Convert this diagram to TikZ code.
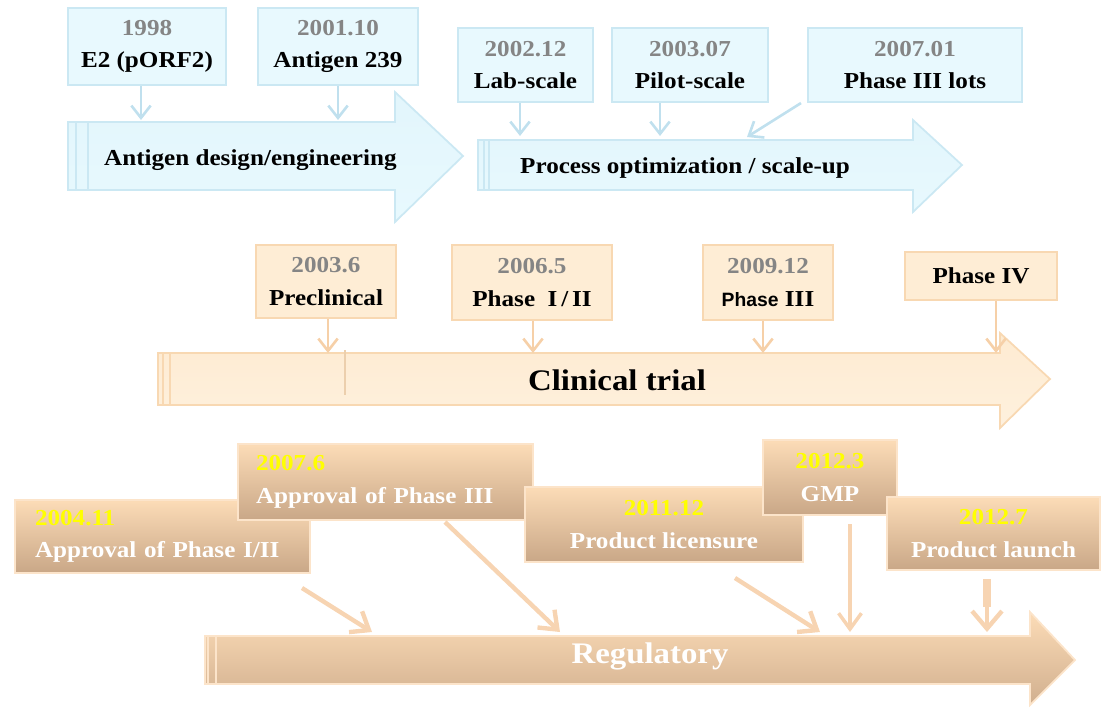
\documentclass[tikz,border=0pt]{standalone}
\usepackage{fontspec}
\setmainfont{Liberation Serif}[FakeStretch=1.1]
\setsansfont{Liberation Sans}
\usetikzlibrary{arrows.meta,calc}

\definecolor{dategray}{HTML}{858585}
\definecolor{skyfill}{HTML}{E8F9FE}
\definecolor{skyline}{HTML}{CBE8F3}
\definecolor{skyarrow}{HTML}{C0E0EE}
\definecolor{creamfill}{HTML}{FEEDD5}
\definecolor{creamline}{HTML}{F8D8B2}
\definecolor{creamarrow}{HTML}{F6D0A8}
\definecolor{tantop}{HTML}{FCDCB7}
\definecolor{tanbot}{HTML}{C9A787}
\definecolor{tanline}{HTML}{FCE4CA}
\definecolor{tanarrow}{HTML}{F7D4B2}
\definecolor{dateyellow}{HTML}{FFFF00}

\tikzset{
box/.style={rectangle,line width=1.2pt,align=center,inner sep=2pt,
font=\fontsize{13}{18.5}\selectfont\bfseries},
skybox/.style={box,draw=skyline,fill=skyfill},
creambox/.style={box,draw=creamline,fill=creamfill},
tanbox/.style={box,draw=tanline,top color=tantop,bottom color=tanbot,text=white},
skyband/.style={draw=skyline,line width=1pt,top color=skyfill!80!skyline,bottom color=skyfill},
creamband/.style={draw=creamline,line width=1pt,top color=creamfill!90!creamline,bottom color=creamfill!80!white},
tanband/.style={draw=tanline,line width=1pt,top color=tantop,bottom color=tanbot!85!tantop},
skylink/.style={draw=skyarrow,line width=1.5pt,-{Straight Barb[length=7pt,width=11pt]}},
creamlink/.style={draw=creamarrow,line width=1.5pt,-{Straight Barb[length=7pt,width=11pt]}},
tanlink/.style={draw=tanarrow,line width=2.5pt,-{Straight Barb[length=9pt,width=14pt]}},
bandtext/.style={font=\fontsize{13}{15}\selectfont\bfseries},
bigtext/.style={font=\fontsize{17}{20}\selectfont\bfseries}
}

\begin{document}
\begin{tikzpicture}[x=0.02cm,y=-0.02cm]
\useasboundingbox (0,0) rectangle (1102,707);

% antigen design
\draw[skyband] (68,122) -- (395,122) -- (395,92) -- (463,156) -- (395,222) -- (395,190) -- (68,190) -- cycle;
\draw[skyline,line width=1pt] (76,122) -- (76,190) (88,122) -- (88,190);
\node[bandtext,anchor=west] (design) at (98,160) {Antigen design/engineering};

\node[skybox,minimum width=3.16cm,minimum height=1.54cm] (b1998) at (147,46.5) {\textcolor{dategray}{1998}\\E2 (pORF2)};
\node[skybox,minimum width=3.2cm,minimum height=1.54cm] (b2001) at (338,46.5) {\textcolor{dategray}{2001.10}\\Antigen 239};
\coordinate (d1) at (141,120);
\coordinate (d2) at (338,120);
\draw[skylink] (b1998.south -| d1) -- (d1);
\draw[skylink] (b2001.south -| d2) -- (d2);

% process
\draw[skyband] (478,140) -- (913,140) -- (913,120) -- (962,165) -- (913,212) -- (913,190) -- (478,190) -- cycle;
\draw[skyline,line width=1pt] (484,140) -- (484,190) (489,140) -- (489,190);
\node[bandtext,anchor=west] (process) at (514,168) {Process optimization / scale-up};

\node[skybox,minimum width=2.7cm,minimum height=1.48cm] (b2002) at (525.5,65) {\textcolor{dategray}{2002.12}\\Lab-scale};
\node[skybox,minimum width=3.12cm,minimum height=1.48cm] (b2003) at (690,65) {\textcolor{dategray}{2003.07}\\Pilot-scale};
\node[skybox,minimum width=4.28cm,minimum height=1.48cm] (b2007) at (915,65) {\textcolor{dategray}{2007.01}\\Phase III lots};
\coordinate (p1) at (520,136);
\coordinate (p2) at (660,136);
\coordinate (p3) at (747,137);
\draw[skylink] (b2002.south -| p1) -- (p1);
\draw[skylink] (b2003.south -| p2) -- (p2);
\draw[skylink] ($(b2007.south west)+(-6,0)$) -- (p3);

% clinical trial
\draw[creamband] (158,353) -- (1000,353) -- (1000,333) -- (1050,379) -- (1000,428) -- (1000,405) -- (158,405) -- cycle;
\draw[creamline,line width=1pt] (163,353) -- (163,405) (170,353) -- (170,405);
\draw[creamline!90!gray,line width=1.5pt] (345,350) -- (345,395);
\node[bigtext] (clinical) at (617,380) {Clinical trial};

\node[creambox,minimum width=2.8cm,minimum height=1.46cm] (c2003) at (326,281.5) {\textcolor{dategray}{2003.6}\\Preclinical};
\node[creambox,minimum width=3.2cm,minimum height=1.5cm] (c2006) at (532,282.5) {\textcolor{dategray}{2006.5}\\Phase\ \ I\,/\,II};
\node[creambox,minimum width=2.6cm,minimum height=1.5cm] (c2009) at (768,282.5) {\textcolor{dategray}{2009.12}\\{\sffamily\fontsize{11}{18.5}\selectfont Phase} III};
\node[creambox,minimum width=3.04cm,minimum height=0.96cm] (cph4) at (981,276) {Phase IV};
\coordinate (t1) at (328,353);
\coordinate (t2) at (533,353);
\coordinate (t3) at (763,353);
\coordinate (t4) at (996,353);
\draw[creamlink] (c2003.south -| t1) -- (t1);
\draw[creamlink] (c2006.south -| t2) -- (t2);
\draw[creamlink] (c2009.south -| t3) -- (t3);
\draw[creamlink] (cph4.south -| t4) -- (t4);

% regulatory
\draw[tanband] (205,636) -- (1030,636) -- (1030,612) -- (1075,660) -- (1030,705) -- (1030,684) -- (205,684) -- cycle;
\draw[tanline,line width=1pt] (208,636) -- (208,684) (216,636) -- (216,684);
\node[bigtext,text=white] (regulatory) at (650,656) {Regulatory};

\node[tanbox,minimum width=5.9cm,minimum height=1.46cm,text width=5.1cm,align=left] (r2004) at (162.5,536.5) {\textcolor{dateyellow}{2004.11}\\Approval of Phase I/II};
\node[tanbox,minimum width=5.9cm,minimum height=1.52cm,text width=5.18cm,align=left] (r2007) at (385.5,482) {\textcolor{dateyellow}{2007.6}\\Approval of Phase III};
\node[tanbox,minimum width=5.56cm,minimum height=1.5cm] (r2011) at (664,524.5) {\textcolor{dateyellow}{2011.12}\\Product licensure};
\node[tanbox,minimum width=2.68cm,minimum height=1.5cm] (r2012a) at (830,477.5) {\textcolor{dateyellow}{2012.3}\\GMP};
\node[tanbox,minimum width=4.26cm,minimum height=1.46cm] (r2012b) at (993.5,533.5) {\textcolor{dateyellow}{2012.7}\\Product launch};

\coordinate (g1) at (302,588);
\coordinate (g2) at (445,522);
\coordinate (g3) at (735,578);
\coordinate (e1) at (372,632);
\coordinate (e2) at (560,632);
\coordinate (e3) at (820,632);
\coordinate (e4) at (850,632);
\coordinate (e5) at (987,632);
\draw[tanlink] (g1) -- (e1);
\draw[tanlink] (g2) -- (e2);
\draw[tanlink] (g3) -- (e3);
\draw[tanlink,line width=2pt,-{Straight Barb[length=9pt,width=13pt]}] (r2012a.south -| e4) ++(0,8) -- (e4);
\draw[tanarrow,line width=5pt] (r2012b.south -| e5) ++(0,8) -- ++(0,28);
\draw[tanlink,-{Straight Barb[length=10pt,width=17pt]}] ($(e5)+(0,-26)$) -- (e5);
\end{tikzpicture}
\end{document}
